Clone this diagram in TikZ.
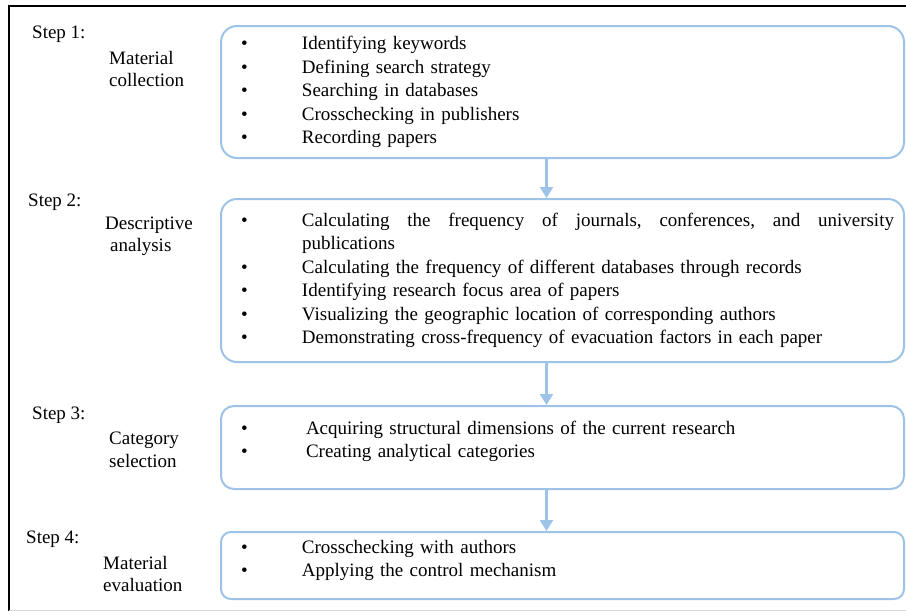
\documentclass[tikz,border=0pt]{standalone}
\usepackage{fontspec}
\setmainfont{Liberation Serif}
\usepackage{tikz}
\usetikzlibrary{arrows.meta,positioning}
\usepackage{xcolor}
\definecolor{stepblue}{RGB}{157,195,230}
\definecolor{framegray}{RGB}{215,215,215}
\tikzstyle{stepbox} = [rectangle, rounded corners=16pt, draw=stepblue, line width=2pt, minimum width=683pt, text width=663pt, inner xsep=10pt, inner ysep=0pt, align=left, font=\fontsize{19}{23.5}\selectfont]
\tikzstyle{arrow} = [line width=2.2pt, -{Triangle[width=13pt,length=11pt]}, color=stepblue]
\tikzstyle{steplabel} = [anchor=west, inner sep=0pt, font=\fontsize{19}{22.5}\selectfont]
\tikzstyle{phaselabel} = [anchor=west, align=left, inner sep=0pt, font=\fontsize{19}{22.5}\selectfont]

\begin{document}
\begin{tikzpicture}[x=1pt, y=-1pt]
\useasboundingbox (0,0) rectangle (906,611);
% Frame
\draw[line width=1.5pt] (9,611) -- (9,6) -- (906,6);
\draw[framegray, line width=1pt] (9,610) -- (906,610);

% Step boxes
\node[stepbox, minimum height=132pt] (collect) at (562.5,92) {%
\begin{tabular}{@{\hspace{10pt}}p{61pt}@{}l@{}}
\textbullet & Identifying keywords\\
\textbullet & Defining search strategy\\
\textbullet & Searching in databases\\
\textbullet & Crosschecking in publishers\\
\textbullet & Recording papers
\end{tabular}};
\node[stepbox, minimum height=163pt, below=39pt of collect] (describe) {%
\begin{tabular}{@{\hspace{10pt}}p{61pt}@{}l@{}}
\textbullet & \hbox to 592pt{Calculating\hfill the\hfill frequency\hfill of\hfill journals,\hfill conferences,\hfill and\hfill university}\\
 & publications\\
\textbullet & Calculating the frequency of different databases through records\\
\textbullet & Identifying research focus area of papers\\
\textbullet & Visualizing the geographic location of corresponding authors\\
\textbullet & Demonstrating cross-frequency of evacuation factors in each paper
\end{tabular}};
\node[stepbox, rounded corners=13pt, minimum height=83pt, below=42pt of describe] (select) {%
\begin{tabular}{@{\hspace{10pt}}p{65pt}@{}l@{}}
\textbullet & Acquiring structural dimensions of the current research\\
\textbullet & Creating analytical categories\\[12pt]
\end{tabular}};
\node[stepbox, rounded corners=10pt, minimum height=67pt, below=41pt of select] (evaluate) {%
\begin{tabular}{@{\hspace{10pt}}p{61pt}@{}l@{}}
\textbullet & Crosschecking with authors\\
\textbullet & Applying the control mechanism\\[10pt]
\end{tabular}};

\draw[arrow] ([xshift=-16pt]collect.south) -- ([xshift=-16pt]describe.north);
\draw[arrow] ([xshift=-16pt]describe.south) -- ([xshift=-16pt]select.north);
\draw[arrow] ([xshift=-16pt]select.south) -- ([xshift=-16pt]evaluate.north);

% Step labels
\node[steplabel] (step1) at (32,34) {Step 1:};
\node[phaselabel] (phase1) at (109,69) {Material\\collection};
\node[steplabel] (step2) at (28,202) {Step 2:};
\node[phaselabel] (phase2) at (105,236.5) {Descriptive\\\hspace{5pt}analysis};
\node[steplabel] (step3) at (32,415) {Step 3:};
\node[phaselabel] (phase3) at (109,450) {Category\\selection};
\node[steplabel] (step4) at (26,539) {Step 4:};
\node[phaselabel] (phase4) at (103,574) {Material\\evaluation};
\end{tikzpicture}
\end{document}
